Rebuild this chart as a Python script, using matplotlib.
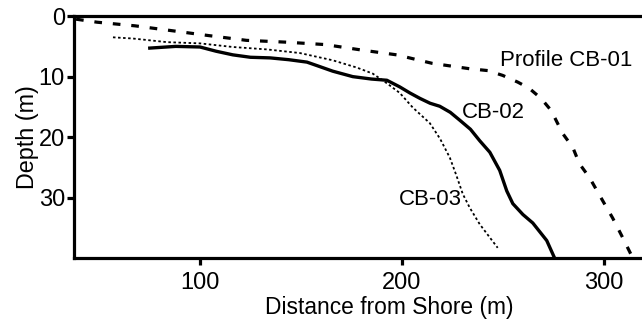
import numpy as np
import matplotlib.pyplot as plt

plt.rcParams['font.family'] = ['Liberation Sans', 'DejaVu Sans']

# Profile CB-01 (long dashes)
cb01_x = [38.6, 49, 67.8, 86, 104, 123, 142.6, 162, 180, 197.5, 215, 233.7,
          242.6, 250, 257.4, 263, 269, 274, 279.7, 284.7, 288, 293, 299.5,
          304.5, 309.4, 314]
cb01_y = [0.5, 1.0, 1.6, 2.4, 3.2, 4.0, 4.3, 4.7, 5.6, 6.4, 7.8, 8.7,
          9.0, 9.8, 10.9, 11.9, 13.6, 15.6, 19.4, 21.7, 24.4, 26.7, 30.5,
          33.4, 36.6, 39.7]

# Profile CB-02 (solid)
cb02_x = [74.3, 88, 100, 108, 116.3, 125, 134.7, 144, 153, 159, 165.8, 175.7,
          185, 192.6, 199, 204, 209, 214, 218.8, 224, 228.7, 234, 238.6, 243.6,
          248.5, 252, 255, 260, 264.9, 271.8, 275.7]
cb02_y = [5.3, 5.0, 5.1, 5.8, 6.4, 6.8, 6.9, 7.2, 7.6, 8.3, 9.1, 10.0,
          10.4, 10.6, 11.7, 12.7, 13.6, 14.4, 14.9, 15.9, 17.2, 18.7, 20.6, 22.5,
          25.5, 28.9, 31.0, 32.8, 34.2, 37.1, 40.0]

# Profile CB-03 (dotted)
cb03_x = [56.9, 66.8, 83.7, 100, 116.3, 133.2, 149.5, 165.8, 177.7, 185.6,
          192.6, 199, 205.4, 213.9, 219, 223.8, 227, 230.2, 233.7, 238.6, 243.6, 247.5]
cb03_y = [3.5, 3.7, 4.3, 4.5, 5.1, 5.5, 6.1, 7.3, 8.5, 9.5,
          11.1, 12.7, 15.1, 17.7, 20.3, 23.4, 26.3, 29.4, 31.7, 34.4, 36.6, 38.3]

fig = plt.figure(figsize=(6.42, 3.23), dpi=100)
ax = fig.add_axes([0.1153, 0.201, 0.8847, 0.749])

ax.plot(cb01_x, cb01_y, color='black', lw=2.3, linestyle=(0, (2.4, 3.4)))
ax.plot(cb02_x, cb02_y, color='black', lw=2.4, solid_capstyle='butt',
        solid_joinstyle='round')
ax.plot(cb03_x, cb03_y, color='black', lw=1.3, linestyle=(0, (1.4, 1.4)))

ax.text(248.5, 7.3, 'Profile CB-01', fontsize=16, va='center', ha='left')
ax.text(229.7, 16.0, 'CB-02', fontsize=16, va='center', ha='left')
ax.text(198.5, 30.3, 'CB-03', fontsize=16, va='center', ha='left')

ax.set_xlim(37.6, 319)
ax.set_ylim(40, 0)
ax.set_xticks([100, 200, 300])
ax.set_yticks([0, 10, 20, 30])

for side in ['left', 'bottom', 'top']:
    ax.spines[side].set_linewidth(2.3)
ax.spines['right'].set_visible(False)

ax.tick_params(axis='x', direction='out', length=5, width=2.3, pad=5, labelsize=17)
ax.tick_params(axis='y', direction='out', length=5, width=2.3, pad=1.5, labelsize=17)

ax.set_xlabel('Distance from Shore (m)', fontsize=16.4)
ax.xaxis.set_label_coords(0.555, -0.155)
ax.set_ylabel('Depth (m)', fontsize=16.8, labelpad=0)

fig.savefig('out.png', dpi=100)
